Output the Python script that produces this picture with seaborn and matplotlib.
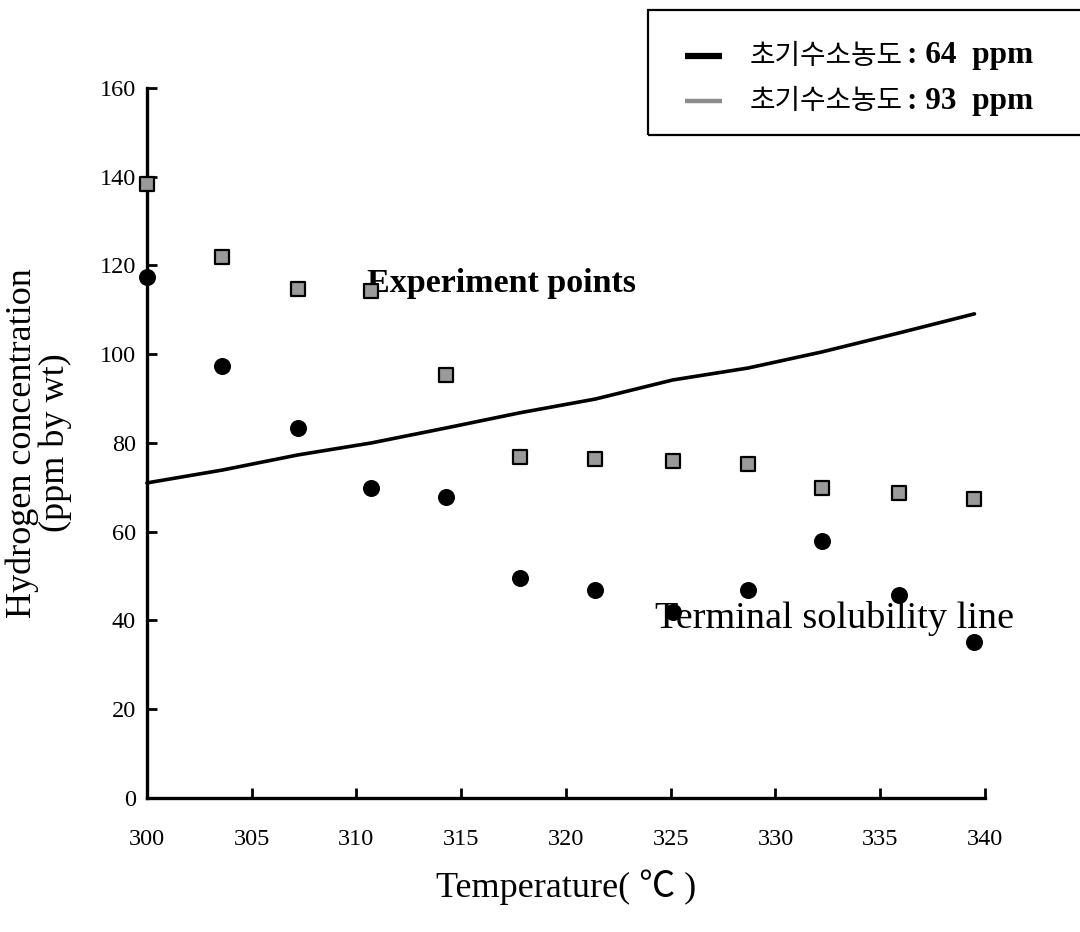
import matplotlib
matplotlib.use("Agg")
import matplotlib.pyplot as plt
from matplotlib.patches import Rectangle
from matplotlib.lines import Line2D
import seaborn as sns
import pandas as pd

# Temperatures (°C) at which samples were measured
temperature = [300.0, 303.6, 307.2, 310.7, 314.3, 317.8, 321.4, 325.1, 328.7, 332.2, 335.9, 339.5]
# Measured hydrogen concentration, initial 64 ppm
h_64ppm = [117.4, 97.4, 83.4, 69.9, 67.8, 49.6, 46.9, 41.8, 46.9, 57.9, 45.7, 35.2]
# Measured hydrogen concentration, initial 93 ppm
h_93ppm = [138.4, 121.9, 114.7, 114.3, 95.3, 76.8, 76.4, 75.9, 75.3, 69.9, 68.7, 67.4]
# Terminal solubility line
tsl = [71.0, 73.9, 77.3, 80.0, 83.4, 86.8, 89.9, 94.2, 96.9, 100.5, 104.8, 109.1]

x_ticks = [300, 305, 310, 315, 320, 325, 330, 335, 340]
y_ticks = [0, 20, 40, 60, 80, 100, 120, 140, 160]

legend_labels = ["초기수소농도", "초기수소농도"]
legend_values = [": 64  ppm", ": 93  ppm"]

df = pd.DataFrame({"T": temperature, "h64": h_64ppm, "h93": h_93ppm, "tsl": tsl})

sns.set_style("white")
plt.rcParams["font.family"] = ["Liberation Serif", "Noto Sans CJK KR", "DejaVu Sans"]
plt.rcParams["text.color"] = "black"
plt.rcParams["axes.labelcolor"] = "black"
plt.rcParams["xtick.color"] = "black"
plt.rcParams["ytick.color"] = "black"

fig = plt.figure(figsize=(10.8, 9.32), dpi=100)
ax = fig.add_axes([0.136, 0.1438, 0.776, 0.7618])

sns.lineplot(data=df, x="T", y="tsl", ax=ax, color="black", linewidth=2.6, clip_on=False)
sns.scatterplot(data=df, x="T", y="h93", ax=ax, marker="s", s=100, color="#9a9a9a",
                edgecolor="black", linewidth=1.6, clip_on=False, zorder=4)
sns.scatterplot(data=df, x="T", y="h64", ax=ax, marker="o", s=150, color="black",
                edgecolor="black", linewidth=0, clip_on=False, zorder=5)

ax.set_xlim(300, 340)
ax.set_ylim(0, 160)
ax.set_xticks(x_ticks)
ax.set_yticks(y_ticks)
ax.set_xticklabels([str(v) for v in x_ticks], fontsize=17.5)
ax.set_yticklabels([str(v) for v in y_ticks], fontsize=17.5)
ax.tick_params(axis="both", direction="in", length=7, width=2,
               left=True, bottom=True)
ax.tick_params(axis="x", pad=22)
ax.tick_params(axis="y", pad=8)

for side in ("top", "right"):
    ax.spines[side].set_visible(False)
for side in ("left", "bottom"):
    ax.spines[side].set_linewidth(2.4)
    ax.spines[side].set_color("black")

ax.set_xlabel("Temperature( ℃ )", fontsize=26, labelpad=14)
ax.set_ylabel("Hydrogen concentration\n(ppm by wt)", fontsize=26, labelpad=20,
              linespacing=0.95)

ax.text(310.5, 116, "Experiment points", fontsize=24.5, fontweight="bold",
        va="center", ha="left")
ax.text(324.25, 40.5, "Terminal solubility line", fontsize=27.5,
        va="center", ha="left")

# Legend box drawn in figure pixels
W, H = 1080, 932
def fx(px):
    return px / W
def fy(py):
    return 1 - py / H

fig.add_artist(Rectangle((fx(648), fy(135)), fx(1100) - fx(648), fy(10) - fy(135),
                         transform=fig.transFigure, fill=False, edgecolor="black",
                         linewidth=1.6))
legend_styles = [dict(color="black", lw=4.5), dict(color="#8c8c8c", lw=3.2)]
legend_rows = [56, 101]
for row, style, lab, val in zip(legend_rows, legend_styles, legend_labels, legend_values):
    fig.add_artist(Line2D([fx(685), fx(722)], [fy(row), fy(row)],
                          transform=fig.transFigure, solid_capstyle="butt", **style))
    fig.text(fx(750), fy(row), lab, fontsize=20, va="center", ha="left",
             family=["Noto Sans CJK KR", "DejaVu Sans"])
    fig.text(fx(907), fy(row), val, fontsize=22.5, fontweight="bold", va="center",
             ha="left", family=["Liberation Serif", "DejaVu Serif"])

fig.savefig("out.png", dpi=100, facecolor="white")
